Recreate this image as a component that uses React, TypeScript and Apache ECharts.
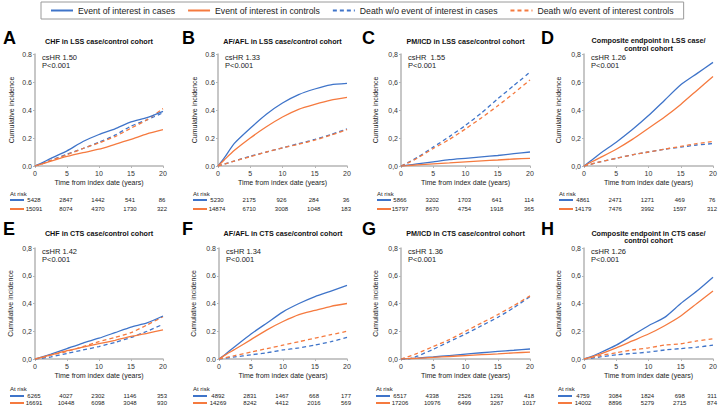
import React, { useEffect, useRef } from "react";
import * as echarts from "echarts";

const FONT = '"Liberation Sans", Arial, sans-serif';
const BLUE = "#3f74c9";
const ORANGE = "#f57a3f";

const TIMES = [0, 1, 2.5, 5, 7.5, 10, 12.5, 15, 17.5, 20];
const RISK_TIMES = [0, 5, 10, 15, 20];

const SERIES_NAMES = [
  "Event of interest in cases",
  "Event of interest in controls",
  "Death w/o event of interest in cases",
  "Death w/o event of interest controls",
];

// Panel A – CHF in LSS
const A_caseEvent = [0, 0.02, 0.055, 0.108, 0.175, 0.225, 0.265, 0.315, 0.345, 0.39];
const A_ctrlEvent = [0, 0.014, 0.035, 0.068, 0.095, 0.12, 0.155, 0.19, 0.23, 0.26];
const A_caseDeath = [0, 0.015, 0.04, 0.085, 0.125, 0.17, 0.22, 0.285, 0.33, 0.38];
const A_ctrlDeath = [0, 0.015, 0.04, 0.08, 0.125, 0.165, 0.21, 0.27, 0.33, 0.41];
// Panel B – AF/AFL in LSS
const B_caseEvent = [0, 0.06, 0.16, 0.27, 0.37, 0.45, 0.51, 0.55, 0.58, 0.59];
const B_ctrlEvent = [0, 0.045, 0.11, 0.2, 0.28, 0.35, 0.405, 0.44, 0.47, 0.49];
const B_caseDeath = [0, 0.014, 0.035, 0.07, 0.1, 0.13, 0.16, 0.19, 0.225, 0.265];
const B_ctrlDeath = [0, 0.013, 0.035, 0.066, 0.1, 0.13, 0.155, 0.185, 0.22, 0.26];
// Panel C – PM/ICD in LSS
const C_caseEvent = [0, 0.006, 0.015, 0.03, 0.045, 0.055, 0.065, 0.075, 0.088, 0.1];
const C_ctrlEvent = [0, 0.003, 0.008, 0.015, 0.022, 0.03, 0.037, 0.043, 0.05, 0.055];
const C_caseDeath = [0, 0.022, 0.06, 0.135, 0.21, 0.29, 0.38, 0.48, 0.575, 0.67];
const C_ctrlDeath = [0, 0.02, 0.055, 0.125, 0.19, 0.265, 0.345, 0.43, 0.52, 0.615];
// Panel D – Composite in LSS
const D_caseEvent = [0, 0.035, 0.09, 0.17, 0.26, 0.36, 0.47, 0.58, 0.66, 0.74];
const D_ctrlEvent = [0, 0.025, 0.06, 0.12, 0.19, 0.27, 0.35, 0.44, 0.54, 0.64];
const D_caseDeath = [0, 0.012, 0.03, 0.055, 0.08, 0.1, 0.12, 0.135, 0.15, 0.16];
const D_ctrlDeath = [0, 0.012, 0.03, 0.055, 0.08, 0.1, 0.12, 0.14, 0.16, 0.175];
// Panel E – CHF in CTS
const E_caseEvent = [0, 0.013, 0.035, 0.075, 0.115, 0.15, 0.19, 0.23, 0.26, 0.31];
const E_ctrlEvent = [0, 0.012, 0.03, 0.06, 0.085, 0.11, 0.135, 0.163, 0.185, 0.21];
const E_caseDeath = [0, 0.005, 0.015, 0.04, 0.065, 0.09, 0.12, 0.155, 0.2, 0.25];
const E_ctrlDeath = [0, 0.01, 0.028, 0.055, 0.09, 0.125, 0.155, 0.19, 0.245, 0.305];
// Panel F – AF/AFL in CTS
const F_caseEvent = [0, 0.035, 0.09, 0.18, 0.26, 0.34, 0.4, 0.45, 0.49, 0.53];
const F_ctrlEvent = [0, 0.03, 0.07, 0.14, 0.21, 0.27, 0.32, 0.35, 0.38, 0.4];
const F_caseDeath = [0, 0.006, 0.015, 0.03, 0.045, 0.065, 0.08, 0.1, 0.125, 0.155];
const F_ctrlDeath = [0, 0.01, 0.025, 0.05, 0.075, 0.1, 0.125, 0.15, 0.175, 0.2];
// Panel G – PM/ICD in CTS
const G_caseEvent = [0, 0.003, 0.007, 0.015, 0.025, 0.035, 0.045, 0.055, 0.063, 0.072];
const G_ctrlEvent = [0, 0.002, 0.005, 0.012, 0.018, 0.025, 0.031, 0.037, 0.044, 0.05];
const G_caseDeath = [0, 0, 0.02, 0.07, 0.125, 0.18, 0.24, 0.3, 0.37, 0.45];
const G_ctrlDeath = [0, 0.015, 0.04, 0.09, 0.14, 0.2, 0.26, 0.32, 0.385, 0.455];
// Panel H – Composite in CTS
const H_caseEvent = [0, 0.015, 0.045, 0.1, 0.17, 0.24, 0.3, 0.4, 0.49, 0.59];
const H_ctrlEvent = [0, 0.012, 0.035, 0.08, 0.13, 0.18, 0.24, 0.31, 0.4, 0.49];
const H_caseDeath = [0, 0.005, 0.015, 0.03, 0.04, 0.05, 0.065, 0.075, 0.085, 0.1];
const H_ctrlDeath = [0, 0.01, 0.025, 0.045, 0.065, 0.08, 0.1, 0.11, 0.13, 0.145];

// Numbers at risk
const A_riskCases = [5428, 2847, 1442, 541, 86];
const A_riskCtrls = [15091, 8074, 4370, 1730, 322];
const B_riskCases = [5230, 2175, 926, 284, 36];
const B_riskCtrls = [14874, 6710, 3008, 1048, 183];
const C_riskCases = [5866, 3202, 1703, 641, 114];
const C_riskCtrls = [15797, 8670, 4754, 1918, 365];
const D_riskCases = [4861, 2471, 1271, 469, 76];
const D_riskCtrls = [14179, 7476, 3992, 1597, 312];
const E_riskCases = [6265, 4027, 2302, 1146, 353];
const E_riskCtrls = [16691, 10448, 6098, 3048, 930];
const F_riskCases = [4892, 2831, 1467, 668, 177];
const F_riskCtrls = [14269, 8242, 4412, 2016, 569];
const G_riskCases = [6517, 4338, 2526, 1291, 418];
const G_riskCtrls = [17206, 10976, 6499, 3267, 1017];
const H_riskCases = [4759, 3084, 1824, 698, 311];
const H_riskCtrls = [14002, 8896, 5279, 2715, 874];

const LETTERS = ["A", "B", "C", "D", "E", "F", "G", "H"];
const TITLES = [
  ["CHF in LSS case/control cohort"],
  ["AF/AFL in LSS case/control cohort"],
  ["PM/ICD in LSS case/control cohort"],
  ["Composite endpoint in LSS case/", "control cohort"],
  ["CHF in CTS case/control cohort"],
  ["AF/AFL in CTS case/control cohort"],
  ["PM/ICD in CTS case/control cohort"],
  ["Composite endpoint in CTS case/", "control cohort"],
];
const HR_TEXT = ["csHR 1.50", "csHR 1.33", "csHR  1.55", "csHR 1.26", "csHR 1.42", "csHR 1.34", "csHR 1.36", "csHR 1.26"];
const P_TEXT = ["P<0.001", "P<0.001", "P<0.001", "P<0.001", "P<0.001", "P<0.001", "P<0.001", "P<0.001"];
const COMMA_DECIMAL = [false, false, true, true, true, false, true, true];

const CURVES = [
  [A_caseEvent, A_ctrlEvent, A_caseDeath, A_ctrlDeath],
  [B_caseEvent, B_ctrlEvent, B_caseDeath, B_ctrlDeath],
  [C_caseEvent, C_ctrlEvent, C_caseDeath, C_ctrlDeath],
  [D_caseEvent, D_ctrlEvent, D_caseDeath, D_ctrlDeath],
  [E_caseEvent, E_ctrlEvent, E_caseDeath, E_ctrlDeath],
  [F_caseEvent, F_ctrlEvent, F_caseDeath, F_ctrlDeath],
  [G_caseEvent, G_ctrlEvent, G_caseDeath, G_ctrlDeath],
  [H_caseEvent, H_ctrlEvent, H_caseDeath, H_ctrlDeath],
];
const RISK = [
  [A_riskCases, A_riskCtrls],
  [B_riskCases, B_riskCtrls],
  [C_riskCases, C_riskCtrls],
  [D_riskCases, D_riskCtrls],
  [E_riskCases, E_riskCtrls],
  [F_riskCases, F_riskCtrls],
  [G_riskCases, G_riskCtrls],
  [H_riskCases, H_riskCtrls],
];

// layout (pixels)
const GRIDS = [
  { left: 35, top: 54, width: 128, height: 112, nameGap: 20, letterX: 3 },
  { left: 218, top: 54, width: 129, height: 112, nameGap: 20, letterX: 182 },
  { left: 401, top: 54, width: 129, height: 112, nameGap: 22, letterX: 362 },
  { left: 584, top: 54, width: 129, height: 112, nameGap: 22, letterX: 541 },
  { left: 35, top: 248, width: 128, height: 111, nameGap: 21, letterX: 3 },
  { left: 219, top: 248, width: 128, height: 111, nameGap: 22, letterX: 182 },
  { left: 401, top: 248, width: 129, height: 111, nameGap: 22, letterX: 362 },
  { left: 584, top: 248, width: 129, height: 111, nameGap: 22, letterX: 541 },
];
const ROWS = [
  { letterY: 38, titleY: 41, hrY: 57, riskY: 194, casesY: 200, ctrlsY: 209 },
  { letterY: 229, titleY: 233.5, hrY: 251, riskY: 389, casesY: 396, ctrlsY: 403 },
];
const RISK_LABEL_X = [10, 193, 377, 559, 10, 193, 376, 558];

const STYLES = [
  { color: BLUE, type: "solid" },
  { color: ORANGE, type: "solid" },
  { color: BLUE, type: [4, 3] },
  { color: ORANGE, type: [4, 3] },
];

function buildOption() {
  const grid = GRIDS.map((g) => ({ left: g.left, top: g.top, width: g.width, height: g.height }));
  const axisColor = "#b5b5b5";
  const xAxis = GRIDS.map((g, i) => ({
    gridIndex: i,
    type: "value",
    min: 0,
    max: 20,
    interval: 5,
    name: "Time from index date (years)",
    nameLocation: "middle",
    nameGap: 13,
    nameTextStyle: { fontSize: 7, color: "#222", fontFamily: FONT },
    axisLine: { show: true, lineStyle: { color: axisColor, width: 1.5 } },
    axisTick: { show: true, length: 2, lineStyle: { color: axisColor } },
    splitLine: { show: false },
    axisLabel: { fontSize: 7, color: "#333", margin: 4, fontFamily: FONT },
  }));
  const yAxis = GRIDS.map((g, i) => ({
    gridIndex: i,
    type: "value",
    min: 0,
    max: 0.8,
    interval: 0.2,
    name: "Cumulative incidence",
    nameLocation: "middle",
    nameGap: g.nameGap,
    nameTextStyle: { fontSize: 7, color: "#222", fontFamily: FONT },
    axisLine: { show: true, lineStyle: { color: axisColor, width: 1.5 } },
    axisTick: { show: true, length: 2, lineStyle: { color: axisColor } },
    splitLine: { show: false },
    axisLabel: {
      fontSize: 7,
      color: "#333",
      margin: 3,
      fontFamily: FONT,
      formatter: (v: number) => {
        const s = v.toFixed(1);
        return COMMA_DECIMAL[i] ? s.replace(".", ",") : s;
      },
    },
  }));
  const series: any[] = [];
  CURVES.forEach((curves, i) => {
    curves.forEach((vals, k) => {
      series.push({
        type: "line",
        name: SERIES_NAMES[k],
        xAxisIndex: i,
        yAxisIndex: i,
        data: TIMES.map((t, j) => [t, vals[j]]),
        symbol: "none",
        showSymbol: false,
        smooth: 0.2,
        z: k < 2 ? 3 : 2,
        lineStyle: { color: STYLES[k].color, width: 1.3, type: STYLES[k].type },
        itemStyle: { color: STYLES[k].color },
      });
    });
  });
  return {
    animation: false,
    backgroundColor: "#ffffff",
    textStyle: { fontFamily: FONT },
    legend: {
      data: SERIES_NAMES,
      left: 41,
      top: 2,
      padding: [4, 10, 4, 9],
      itemGap: 12,
      itemWidth: 22,
      itemHeight: 9,
      borderColor: "#9a9a9a",
      borderWidth: 1,
      textStyle: { fontSize: 8.7, color: "#222", fontFamily: FONT },
      lineStyle: { width: 2 },
      itemStyle: { opacity: 0, color: "transparent", borderWidth: 0 },
    },
    grid,
    xAxis,
    yAxis,
    series,
  };
}

function txt(x: number, y: number, text: string, size: number, opts: any = {}) {
  const align = opts.align || "left";
  const valign = opts.valign || "middle";
  return {
    type: "text",
    x,
    y,
    silent: true,
    style: {
      text,
      fill: opts.color || "#222",
      font: `${opts.bold ? "bold " : ""}${size}px ${FONT}`,
      align,
      verticalAlign: valign,
      textAlign: align,
      textVerticalAlign: valign,
    },
  };
}

export default function App() {
  const ref = useRef<HTMLDivElement>(null);
  useEffect(() => {
    if (!ref.current) return;
    const chart = echarts.init(ref.current, undefined, { renderer: "svg" });
    chart.setOption(buildOption() as any);

    const elements: any[] = [];
    GRIDS.forEach((g, i) => {
      const row = ROWS[i < 4 ? 0 : 1];
      const cx = g.left + g.width / 2;
      elements.push(txt(g.letterX, row.letterY, LETTERS[i], 18, { bold: true, color: "#000" }));
      const lines = TITLES[i];
      lines.forEach((line, li) => {
        const y = lines.length > 1 ? row.titleY - 0.5 + li * 7.6 : row.titleY;
        elements.push(txt(cx, y, line, 7.2, { bold: true, align: "center", color: "#111" }));
      });
      elements.push(txt(g.left + 7, row.hrY, HR_TEXT[i], 7.5));
      elements.push(txt(g.left + 7, row.hrY + 8, P_TEXT[i], 7.5));
      const lx = RISK_LABEL_X[i];
      elements.push(txt(lx, row.riskY, "At risk", 6));
      [row.casesY, row.ctrlsY].forEach((y, r) => {
        elements.push({
          type: "line",
          silent: true,
          shape: { x1: lx, y1: y, x2: lx + 14, y2: y },
          style: { stroke: r === 0 ? BLUE : ORANGE, lineWidth: 2 },
        });
        RISK_TIMES.forEach((t, j) => {
          const px = chart.convertToPixel({ xAxisIndex: i } as any, t) as unknown as number;
          elements.push(txt(px - 1, y, String(RISK[i][r][j]), 6, { align: "center" }));
        });
      });
    });
    chart.setOption({ graphic: { elements } } as any);
    return () => chart.dispose();
  }, []);
  return <div ref={ref} style={{ width: 720, height: 409, position: "absolute", left: 0, top: 0 }} />;
}
